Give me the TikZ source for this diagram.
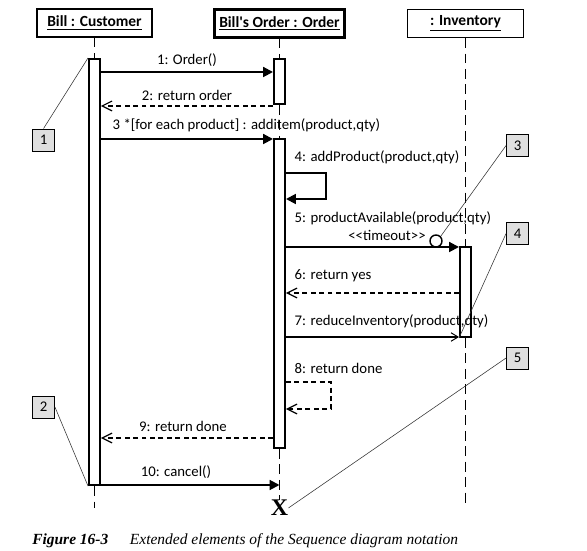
\documentclass[tikz,border=0pt]{standalone}
\usepackage{fontspec}
\setmainfont{Carlito}
\newfontfamily\capfont{Liberation Serif}
\usetikzlibrary{arrows.meta}

\begin{document}
\begin{tikzpicture}[
    x=0.025cm, y=-0.025cm,
    obj/.style={rectangle, draw, line width=0.8pt, minimum height=0.7cm, font=\bfseries\fontsize{11}{13}\selectfont},
    bar/.style={rectangle, draw, line width=1.4pt, fill=white, minimum width=0.275cm, inner sep=0pt},
    life/.style={line width=1.4pt, dash pattern=on 7pt off 4pt},
    call/.style={-{Triangle[length=7pt, width=7pt]}, line width=1.4pt},
    ret/.style={-{Straight Barb[length=7pt, width=7pt, line width=0.8pt]}, line width=1.4pt, dash pattern=on 3.5pt off 2.5pt},
    async/.style={-{Straight Barb[length=5pt, width=6pt, line width=0.7pt]}, line width=0.8pt},
    note/.style={rectangle, draw, line width=0.6pt, fill=gray!25, minimum size=0.55cm, inner sep=0pt, font=\fontsize{10.5}{12}\selectfont},
    pointer/.style={line width=0.4pt, black!80},
    lbl/.style={font=\fontsize{10.5}{12}\selectfont, inner sep=1pt}
]
\useasboundingbox (0,0) rectangle (587,551);

% objects and activations
\node[obj, minimum width=2.875cm] (cust) at (94.5,23) {\underline{Bill : Customer}};
\node[obj, line width=1.6pt, minimum width=3.075cm] (ord) at (279.5,23.5) {\underline{Bill\textquotesingle s Order : Order}};
\node[obj, minimum width=2.9cm] (inv) at (465.5,23.5) {\underline{: Inventory}};

\node[bar, minimum height=10.65cm] (cb) at (94.5,272) {};
\node[bar, minimum height=1.125cm] (ob1) at (279.5,81.5) {};
\node[bar, minimum height=7.725cm] (ob2) at (279.5,293.5) {};
\node[bar, minimum height=2.25cm] (ib) at (465.5,292) {};
\node[font=\capfont\bfseries\fontsize{17}{17}\selectfont, inner sep=0pt] (kill) at (279.5,508) {X};

\coordinate (custEnd) at (94.5,508);
\coordinate (invEnd) at (465.5,508);
\draw[life] (cust.south) -- (cb.north);
\draw[life] (cb.south) -- (custEnd);
\draw[life] (ord.south) -- (ob1.north);
\draw[life] (ob1.south) -- (ob2.north);
\draw[life] (ob2.south) -- (kill.north);
\draw[life] (inv.south) -- (ib.north);
\draw[life] (ib.south) -- (invEnd);

% message levels
\coordinate (m1) at (0,72);
\coordinate (m2) at (0,106);
\coordinate (m3) at (0,139);
\coordinate (m4) at (0,173);
\coordinate (s4) at (326,199);
\coordinate (m5) at (0,247);
\coordinate (m6) at (0,293);
\coordinate (m7) at (0,337);
\coordinate (m8) at (0,382);
\coordinate (s8) at (331,409);
\coordinate (m9) at (0,438);
\coordinate (m10) at (0,485);

\draw[call] (cb.east |- m1) -- (ob1.west |- m1) node[lbl, midway, above=2pt] {1: Order()};
\draw[ret] (ob1.west |- m2) -- (cb.east |- m2) node[lbl, midway, above=2pt] {2: return order};
\draw[call] (cb.east |- m3) -- (ob2.west |- m3);
\node[lbl, anchor=west] (l3) at (111,125) {3 *[for each product] : additem(product,qty)};
\draw[call] (ob2.east |- m4) -| (s4) -- (ob2.east |- s4);
\node[lbl, anchor=west] (l4) at (293,157) {4: addProduct(product,qty)};
\draw[call] (ob2.east |- m5) -- (ib.west |- m5);
\node[lbl, anchor=west] (l5) at (293,218) {5: productAvailable(product,qty)};
\node[lbl] (l5b) at (387,235) {<\kern0pt<timeout>\kern0pt>};
\node[circle, draw, line width=1pt, fill=white, minimum size=0.3cm, inner sep=0pt] (tmo) at (436,241) {};
\draw[ret] (ib.west |- m6) -- (ob2.east |- m6);
\node[lbl, anchor=west] (l6) at (293,276) {6: return yes};
\draw[async] (ob2.east |- m7) -- (ib.west |- m7);
\node[lbl, anchor=west] (l7) at (293,321) {7: reduceInventory(product,qty)};
\draw[ret] (ob2.east |- m8) -| (s8) -- (ob2.east |- s8);
\node[lbl, anchor=west] (l8) at (293,368) {8: return done};
\draw[ret] (ob2.west |- m9) -- (cb.east |- m9);
\node[lbl] (l9) at (183,426) {9: return done};
\draw[call] (cb.east |- m10) -- (ord.south |- m10);
\node[lbl] (l10) at (176,472) {10: cancel()};

% notes
\node[note] (n1) at (43.5,140) {1};
\node[note] (n2) at (43.5,407) {2};
\node[note] (n3) at (517.5,145.5) {3};
\node[note] (n4) at (517.5,233.5) {4};
\node[note] (n5) at (517.5,358) {5};
\draw[pointer] (n1.north) -- (cb.north west);
\draw[pointer] (n2.east) -- (cb.south west);
\draw[pointer] (n3.west) -- (tmo.north east);
\draw[pointer] (n4.west) -- (ib.south west);
\draw[pointer] (n5.west) -- (kill.east);

\node[anchor=west, inner sep=0pt, font=\capfont\itshape\fontsize{11}{13}\selectfont] (cap) at (32,541)
  {\textbf{Figure 16-3}\hspace{1.4em}Extended elements of the Sequence diagram notation};
\end{tikzpicture}
\end{document}
